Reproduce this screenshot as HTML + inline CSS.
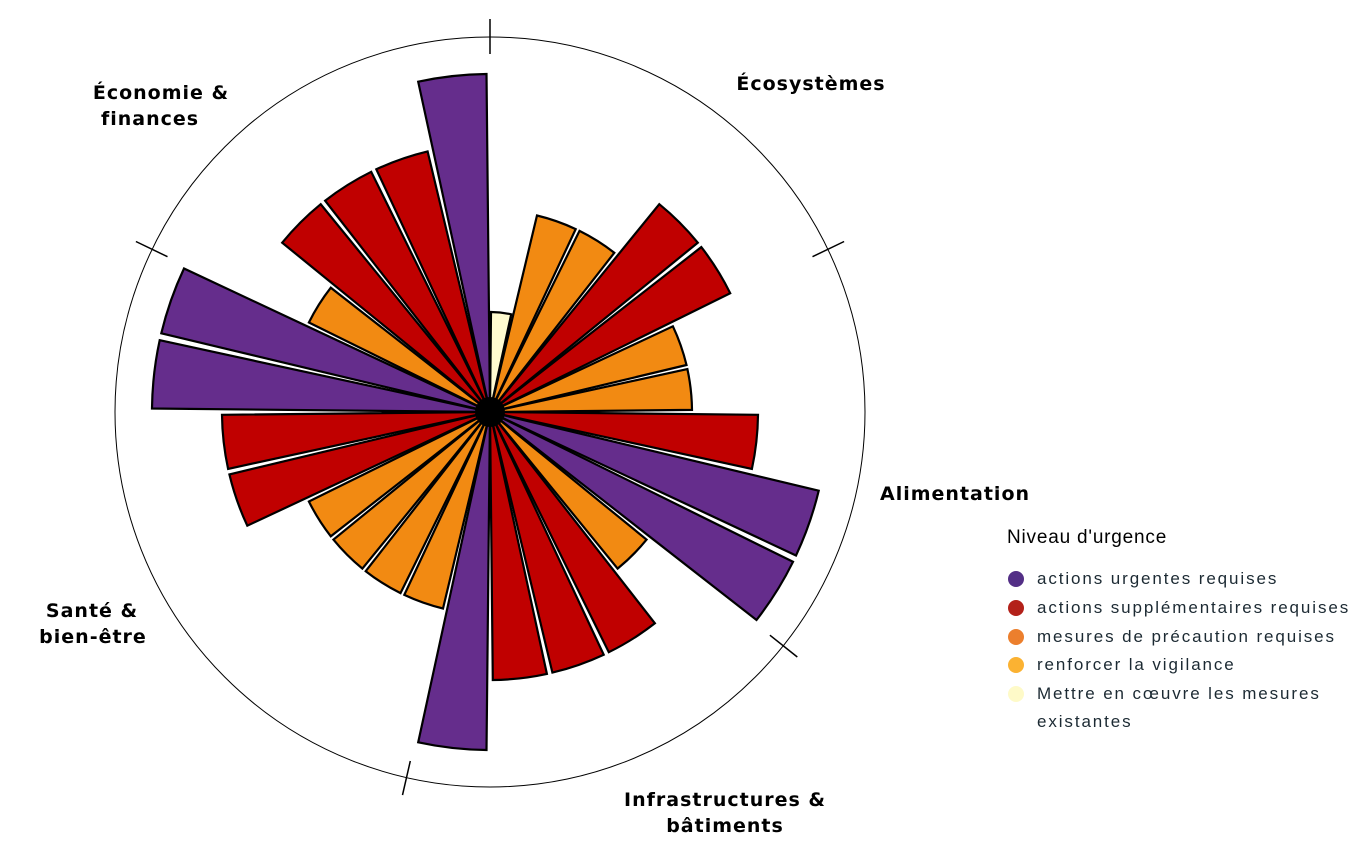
<!DOCTYPE html>
<html><head><meta charset="utf-8"><style>
html,body{margin:0;padding:0;background:#fff;}
svg{display:block;}
.lab{font-family:"DejaVu Sans","Liberation Sans",sans-serif;font-weight:bold;font-size:19px;fill:#000;letter-spacing:1px;}
.leg{font-family:"Liberation Sans",sans-serif;font-size:17px;fill:#1c2a33;letter-spacing:1.9px;}
</style></head><body>
<svg id="s" width="1355" height="864" viewBox="0 0 1355 864" xmlns="http://www.w3.org/2000/svg">
<circle cx="490" cy="412" r="375" fill="none" stroke="#000" stroke-width="1"/>
<g id="bars"></g>
<g id="ticks" stroke="#000" stroke-width="1.5"></g>
<circle cx="490" cy="412" r="15" fill="#000"/>
<text class="lab" x="811" y="90" text-anchor="middle">Écosystèmes</text>
<text class="lab" x="161" y="99" text-anchor="middle">Économie &amp;</text>
<text class="lab" x="150" y="125" text-anchor="middle">finances</text>
<text class="lab" x="880" y="500">Alimentation</text>
<text class="lab" x="92" y="617" text-anchor="middle">Santé &amp;</text>
<text class="lab" x="93" y="643" text-anchor="middle">bien-être</text>
<text class="lab" x="725" y="806" text-anchor="middle">Infrastructures &amp;</text>
<text class="lab" x="725" y="832" text-anchor="middle">bâtiments</text>
<text x="1007" y="543" style="font-family:'Liberation Sans',sans-serif;font-size:19px;fill:#000;letter-spacing:0.8px">Niveau d'urgence</text>
<circle cx="1016" cy="579" r="8" fill="#532f86"/>
<circle cx="1016" cy="608" r="8" fill="#b3211a"/>
<circle cx="1016" cy="637" r="8" fill="#ec7f2d"/>
<circle cx="1016" cy="665" r="8" fill="#fbb232"/>
<circle cx="1016" cy="694" r="8" fill="#fefac8"/>
<text class="leg" x="1037" y="584">actions urgentes requises</text>
<text class="leg" x="1037" y="613">actions supplémentaires requises</text>
<text class="leg" x="1037" y="642">mesures de précaution requises</text>
<text class="leg" x="1037" y="670">renforcer la vigilance</text>
<text class="leg" x="1037" y="699">Mettre en cœuvre les mesures</text>
<text class="leg" x="1037" y="727">existantes</text>
</svg>
<script>
var cx=490,cy=412;
var col={Y:'#fffbd0',O:'#f28a12',R:'#c00000',P:'#652d8c'};
var rad={Y:100,O:202,R:268,P:338};
var seq="YOORROORPPORRRPOOOORRPPORRRP";
var step=360/28,h=step/2-0.6,out='';
function pt(a,r){var t=a*Math.PI/180;return (cx+r*Math.sin(t)).toFixed(1)+','+(cy-r*Math.cos(t)).toFixed(1);}
for(var i=0;i<28;i++){var c=seq[i],m=(i+0.5)*step,r=rad[c];
out+='<path d="M'+cx+','+cy+' L'+pt(m-h,r)+' A'+r+','+r+' 0 0 1 '+pt(m+h,r)+' Z" fill="'+col[c]+'" stroke="#000" stroke-width="2.2" stroke-linejoin="miter"/>';}
document.getElementById('bars').innerHTML=out;
var tk='';[0,5,10,15,23].forEach(function(k){var a=k*step;var p1=pt(a,358).split(','),p2=pt(a,393).split(',');
tk+='<line x1="'+p1[0]+'" y1="'+p1[1]+'" x2="'+p2[0]+'" y2="'+p2[1]+'"/>';});
document.getElementById('ticks').innerHTML=tk;
</script>
</body></html>
